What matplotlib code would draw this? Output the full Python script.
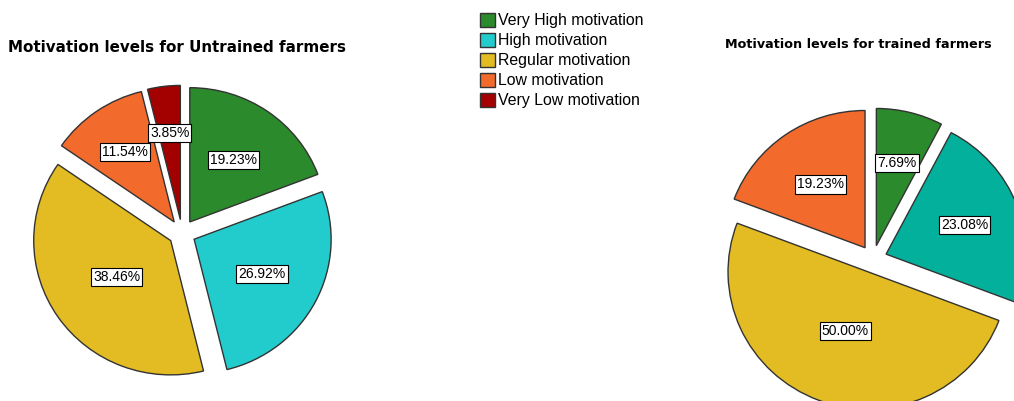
import numpy as np
import matplotlib
matplotlib.use("Agg")
import matplotlib.pyplot as plt

levels = ["Very High motivation", "High motivation", "Regular motivation",
          "Low motivation", "Very Low motivation"]
untrained = [19.23, 26.92, 38.46, 11.54, 3.85]
trained_levels = ["Very High motivation", "High motivation",
                  "Regular motivation", "Low motivation"]
trained = [7.69, 23.08, 50.00, 19.23]

colors_untrained = ["#2b8a2b", "#22cccc", "#e2bc22", "#f26b2c", "#a30000"]
colors_trained = ["#2b8a2b", "#02b09c", "#e2bc22", "#f26b2c"]

W, H = 1014, 401
# the original pies are a touch flatter than round
yscale = 0.98

fig = plt.figure(figsize=(W / 100, H / 100), dpi=100)
ax = fig.add_axes([0, 0, 1, 1])

box = dict(boxstyle="square,pad=0.15", fc="white", ec="black", lw=0.8)
wedge_style = dict(edgecolor="#333333", linewidth=1)


def draw_pie(values, colors, center_px, radius, label_dist):
    center = (center_px[0], (H - center_px[1]) / yscale)
    # explode is in data units, so scale it with the radius
    wedges, texts, autotexts = ax.pie(
        values, colors=colors, startangle=90, counterclock=False,
        explode=[0.1 * radius] * len(values), radius=radius, center=center,
        autopct="%.2f%%", pctdistance=0.6, wedgeprops=wedge_style,
        textprops=dict(fontsize=10, family="Liberation Sans"))
    # move each label to its own radial distance, like the original
    for w, t, d in zip(wedges, autotexts, label_dist):
        ang = np.deg2rad((w.theta1 + w.theta2) / 2)
        cx, cy = w.center
        t.set_position((cx + d * radius * np.cos(ang),
                        cy + d * radius * np.sin(ang)))
        t.set_bbox(box)
    return wedges


left = draw_pie(untrained, colors_untrained, (182, 233), 137,
                [0.56, 0.56, 0.48, 0.63, 0.65])
draw_pie(trained, colors_trained, (873, 259), 140,
         [0.62, 0.6, 0.46, 0.56])

ax.set_xlim(0, W)
ax.set_ylim(0, H / yscale)
ax.set_aspect(yscale)
ax.axis("off")

fig.text(8 / W, 1 - 47 / H, "Motivation levels for Untrained farmers",
         fontsize=10.9, fontweight="bold", ha="left", va="center")
fig.text(725 / W, 1 - 45 / H, "Motivation levels for trained farmers",
         fontsize=9.2, fontweight="bold", ha="left", va="center")

fig.legend(left, levels, loc="upper left",
           bbox_to_anchor=(480 / W, 1 - 13 / H), frameon=False,
           prop=dict(family="Liberation Sans", size=11.4),
           handlelength=0.95, handleheight=0.95, handletextpad=0.2,
           labelspacing=0.3, borderpad=0, borderaxespad=0)

fig.savefig("out.png", dpi=100)
